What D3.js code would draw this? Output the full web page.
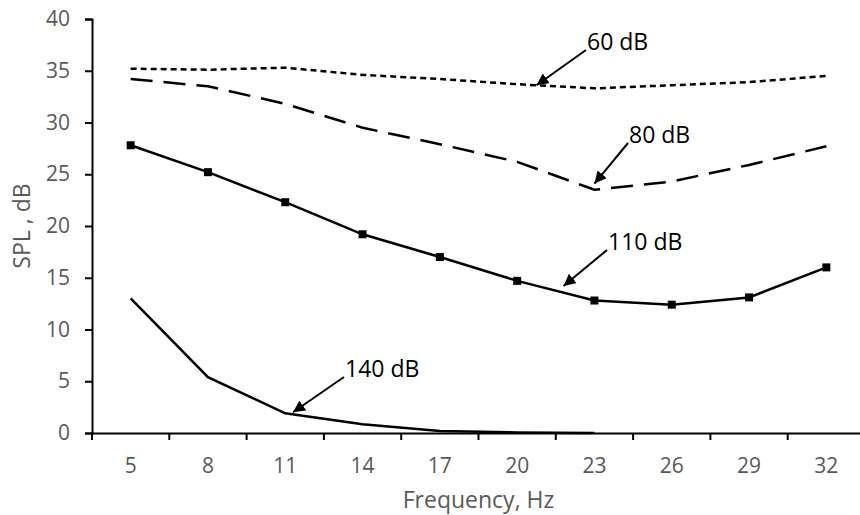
<!DOCTYPE html>
<meta charset="utf-8">
<style>
body { margin: 0; background: #fff; }
.axis-title { font-family: "Open Sans", sans-serif; font-size: 23px; fill: #595959; }
.note { font-family: "Open Sans", sans-serif; font-size: 23px; fill: #000; }
</style>
<svg width="860" height="515"></svg>
<script src="https://cdn.jsdelivr.net/npm/d3@7"></script>
<script>

var freqs = ["5", "8", "11", "14", "17", "20", "23", "26", "29", "32"];
var spl60 = [35.2, 35.1, 35.3, 34.6, 34.2, 33.7, 33.3, 33.6, 33.9, 34.5];
var spl80 = [34.2, 33.5, 31.8, 29.5, 27.9, 26.2, 23.5, 24.3, 25.9, 27.7];
var spl110 = [27.8, 25.2, 22.3, 19.2, 17.0, 14.7, 12.8, 12.4, 13.1, 16.0];
var spl140 = [13.0, 5.4, 1.9, 0.85, 0.2, 0.05, 0.0];
var yTicks = [0, 5, 10, 15, 20, 25, 30, 35, 40];

// label text, category index and value the arrow points at, text position
var notes = [
  { label: "60 dB", at: 5.25, v: 33.6, tx: 586, ty: 50 },
  { label: "80 dB", at: 6.0, v: 24.1, tx: 628, ty: 143 },
  { label: "110 dB", at: 5.6, v: 14.2, tx: 607, ty: 250 },
  { label: "140 dB", at: 2.1, v: 2.0, tx: 344, ty: 377 }
];

var svg = d3.select("svg");
var mLeft = 92, mTop = 19, mBottom = 433;

var x = d3.scaleBand()
    .domain(freqs)
    .range([mLeft, mLeft + 773]);

var y = d3.scaleLinear()
    .domain([0, 40])
    .range([mBottom, mTop]);

// category index (fractional) -> pixel
function xi(i) { return x(freqs[0]) + x.bandwidth() * (i + 0.5); }

var defs = svg.append("defs");
defs.append("marker")
    .attr("id", "head")
    .attr("viewBox", "0 0 10 10")
    .attr("refX", 10).attr("refY", 5)
    .attr("markerWidth", 6).attr("markerHeight", 6)
    .attr("markerUnits", "strokeWidth")
    .attr("orient", "auto")
  .append("path")
    .attr("d", "M0,0L10,5L0,10z")
    .attr("fill", "#000");

// y axis
var yAxis = svg.append("g")
    .attr("transform", "translate(" + mLeft + ",0)")
    .call(d3.axisLeft(y).tickValues(yTicks).tickSize(7).tickPadding(15));
yAxis.select(".domain").attr("stroke", "#000").attr("stroke-width", 2);
yAxis.selectAll(".tick line").attr("stroke", "#000").attr("stroke-width", 2);

// x axis: Excel style, ticks between categories
var xAxis = svg.append("g")
    .attr("transform", "translate(0," + mBottom + ")")
    .call(d3.axisBottom(x).tickSize(0).tickSizeOuter(0).tickPadding(25));
xAxis.select(".domain").attr("stroke", "#000").attr("stroke-width", 2);
xAxis.selectAll(".bound")
    .data(d3.range(freqs.length + 1))
  .enter().append("line")
    .attr("x1", function(i) { return mLeft + i * x.bandwidth(); })
    .attr("x2", function(i) { return mLeft + i * x.bandwidth(); })
    .attr("y1", 0).attr("y2", 7)
    .attr("stroke", "#000").attr("stroke-width", 2);

svg.selectAll(".tick text")
    .attr("font-family", "'Open Sans', sans-serif")
    .attr("font-size", 21)
    .attr("fill", "#595959");

var line = d3.line()
    .x(function(d, i) { return xi(i); })
    .y(function(d) { return y(d); });

function series(data, dash) {
  svg.append("path")
      .datum(data)
      .attr("fill", "none")
      .attr("stroke", "#000")
      .attr("stroke-width", 2.5)
      .attr("stroke-dasharray", dash)
      .attr("d", line);
}

series(spl60, "6,4");
series(spl80, "22,11");
series(spl110, null);
series(spl140, null);

svg.selectAll(".mk")
    .data(spl110)
  .enter().append("rect")
    .attr("x", function(d, i) { return xi(i) - 4; })
    .attr("y", function(d) { return y(d) - 4; })
    .attr("width", 8).attr("height", 8)
    .attr("fill", "#000");

// annotations
notes.forEach(function(n) {
  svg.append("line")
      .attr("x1", n.tx).attr("y1", n.ty)
      .attr("x2", xi(n.at)).attr("y2", y(n.v))
      .attr("stroke", "#000")
      .attr("stroke-width", 2)
      .attr("marker-end", "url(#head)");
  svg.append("text")
      .attr("class", "note")
      .attr("x", n.tx + 1)
      .attr("y", n.ty)
      .text(n.label);
});

svg.append("text")
    .attr("class", "axis-title")
    .attr("text-anchor", "middle")
    .attr("x", (mLeft + mLeft + 773) / 2)
    .attr("y", 508)
    .text("Frequency, Hz");

svg.append("text")
    .attr("class", "axis-title")
    .attr("text-anchor", "middle")
    .attr("transform", "translate(30," + (mTop + mBottom) / 2 + ") rotate(-90)")
    .text("SPL , dB");

</script>
